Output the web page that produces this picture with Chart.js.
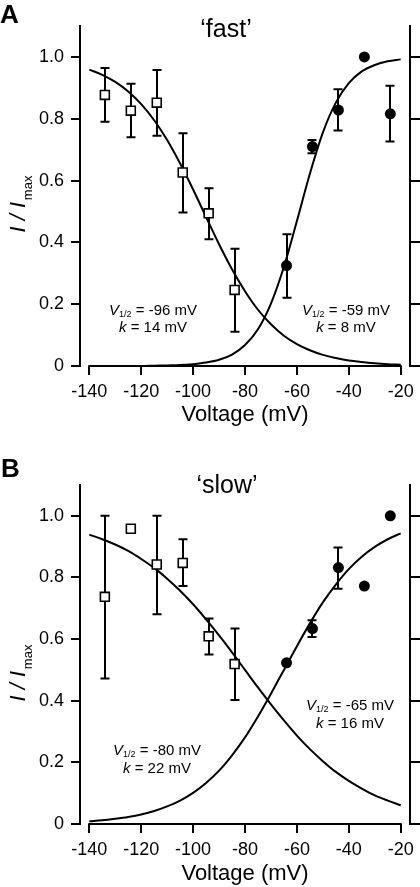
<!DOCTYPE html>
<html><head><meta charset="utf-8">
<script src="https://cdn.jsdelivr.net/npm/chart.js@4/dist/chart.umd.min.js"></script>
<style>
html,body{margin:0;padding:0;background:#fff;width:420px;height:887px;overflow:hidden}
.p{position:absolute;left:0;width:420px}
canvas{display:block}
</style></head><body>
<div class="p" style="top:0;height:440px"><canvas id="cA" width="420" height="440"></canvas></div>
<div class="p" style="top:440px;height:447px"><canvas id="cB" width="420" height="447"></canvas></div>
<script>
// ---------- data ----------
const inactVoltages = [-134, -124, -114, -104, -94, -84];
const actVoltages   = [-64, -54, -44, -34, -24];
const xTickValues = [-140, -120, -100, -80, -60, -40, -20];
const yTickValues = [0, 0.2, 0.4, 0.6, 0.8, 1.0];

// panel A 'fast'
const fastInact   = [0.877, 0.826, 0.852, 0.626, 0.494, 0.246];
const fastInactHi = [0.964, 0.913, 0.958, 0.753, 0.575, 0.379];
const fastInactLo = [0.790, 0.740, 0.745, 0.497, 0.410, 0.111];
const fastAct     = [0.325, 0.710, 0.828, 1.000, 0.816];
const fastActHi   = [0.426, 0.731, 0.895, null, 0.907];
const fastActLo   = [0.221, 0.688, 0.762, null, 0.726];

// panel B 'slow'
const slowInact   = [0.737, 0.958, 0.842, 0.847, 0.609, 0.519];
const slowInactHi = [1.000, null, 1.000, 0.924, 0.667, 0.634];
const slowInactLo = [0.472, null, 0.681, 0.772, 0.550, 0.402];
const slowAct     = [0.523, 0.634, 0.832, 0.772, 1.000];
const slowActHi   = [null, 0.661, 0.897, null, null];
const slowActLo   = [null, 0.607, 0.763, null, null];

// fitted curves
const fitVoltages = [-140,-135,-130,-125,-120,-115,-110,-105,-100,-95,-90,-85,-80,-75,-70,-65,-60,-55,-50,-45,-40,-35,-30,-25,-20];
const fastInactFit = [0.959,0.942,0.919,0.888,0.847,0.795,0.731,0.655,0.571,0.482,0.394,0.313,0.242,0.182,0.135,0.098,0.071,0.051,0.036,0.026,0.018,0.013,0.009,0.006,0.004];
const fastActFit   = [0.000,0.000,0.000,0.000,0.000,0.001,0.002,0.003,0.006,0.011,0.020,0.037,0.068,0.119,0.202,0.321,0.469,0.622,0.755,0.852,0.915,0.953,0.974,0.986,0.992];
const slowInactFit = [0.939,0.924,0.907,0.886,0.860,0.831,0.796,0.757,0.713,0.664,0.612,0.557,0.500,0.443,0.388,0.336,0.287,0.243,0.204,0.169,0.140,0.115,0.093,0.076,0.061];
const slowActFit   = [0.009,0.012,0.017,0.023,0.031,0.042,0.057,0.076,0.101,0.133,0.173,0.223,0.281,0.349,0.423,0.500,0.577,0.651,0.719,0.777,0.827,0.867,0.899,0.924,0.943];

const FONT = "'Liberation Sans', Arial, sans-serif";
Chart.defaults.font.family = FONT;
Chart.defaults.color = '#000';

function pts(xs, ys){ return xs.map((x,i)=>({x:x, y:ys[i]})); }

function drawRuns(ctx, runs, cx, baseY){
  let w = 0;
  runs.forEach(r=>{ ctx.font = r.font; r.w = ctx.measureText(r.text).width; w += r.w; });
  let x = cx - w/2;
  ctx.textAlign = 'left'; ctx.textBaseline = 'alphabetic';
  runs.forEach(r=>{ ctx.font = r.font; ctx.fillText(r.text, x, baseY + (r.dy||0)); x += r.w; });
}

const errorBars = {
  id: 'errorBars',
  beforeDatasetDraw(chart, args){
    const ds = chart.data.datasets[args.index];
    if (!ds.errHi) return;
    const xs = chart.scales.x, ys = chart.scales.y, ctx = chart.ctx;
    ctx.save();
    ctx.strokeStyle = '#000'; ctx.lineWidth = 2;
    ds.data.forEach((p,i)=>{
      const hi = ds.errHi[i], lo = ds.errLo[i];
      if (hi == null) return;
      const px = Math.round(xs.getPixelForValue(p.x));
      const yh = ys.getPixelForValue(hi), yl = ys.getPixelForValue(lo);
      ctx.beginPath();
      ctx.moveTo(px, yh); ctx.lineTo(px, yl);
      ctx.moveTo(px-4.5, yh); ctx.lineTo(px+4.5, yh);
      ctx.moveTo(px-4.5, yl); ctx.lineTo(px+4.5, yl);
      ctx.stroke();
    });
    ctx.restore();
  }
};

const decor = {
  id: 'decor',
  afterDraw(chart){
    const o = chart.options.plugins.decor;
    const ctx = chart.ctx, xs = chart.scales.x, ys = chart.scales.y;
    ctx.save();
    ctx.fillStyle = '#000'; ctx.strokeStyle = '#000';
    // x axis line
    ctx.lineWidth = 2;
    const y0 = Math.round(ys.getPixelForValue(0));
    ctx.beginPath();
    ctx.moveTo(xs.getPixelForValue(-140)-1, y0); ctx.lineTo(xs.getPixelForValue(-20)+1, y0);
    ctx.stroke();
    // panel letter
    ctx.font = 'bold 26px ' + FONT; ctx.textAlign = 'left'; ctx.textBaseline = 'alphabetic';
    ctx.fillText(o.letter, o.letterX, o.letterY);
    // title
    ctx.font = '25px ' + FONT; ctx.textAlign = 'center';
    ctx.fillText(o.title, o.titleX, o.titleY);
    // y axis title
    ctx.save();
    ctx.translate(25, o.yTitleY);
    ctx.rotate(-Math.PI/2);
    drawRuns(ctx, [
      {text:'I / I', font:'italic 22px ' + FONT},
      {text:' ', font:'6px ' + FONT},
      {text:'max', font:'13px ' + FONT, dy:7}
    ], 0, 0);
    ctx.restore();
    // annotations
    o.notes.forEach(n=>{
      drawRuns(ctx, [
        {text:'V', font:'italic 15px ' + FONT},
        {text:'1/2', font:'9px ' + FONT, dy:2},
        {text:' = ' + n.v + ' mV', font:'15px ' + FONT}
      ], n.x, n.y1);
      drawRuns(ctx, [
        {text:'k', font:'italic 15px ' + FONT},
        {text:' = ' + n.k + ' mV', font:'15px ' + FONT}
      ], n.x, n.y2);
    });
    ctx.restore();
  }
};

function makePanel(id, p){
  const ctx = document.getElementById(id);
  new Chart(ctx, {
    data: {
      datasets: [
        {type:'scatter', data: pts(inactVoltages, p.inact), errHi: p.inactHi, errLo: p.inactLo,
         pointStyle:'rect', pointRadius:6.3, pointBorderWidth:1.6, pointBackgroundColor:'#fff', pointBorderColor:'#000', pointHoverRadius:6.3},
        {type:'scatter', data: pts(actVoltages, p.act), errHi: p.actHi, errLo: p.actLo,
         pointStyle:'circle', pointRadius:5.5, pointBorderWidth:0, pointBackgroundColor:'#000', pointBorderColor:'#000', pointHoverRadius:5.5},
        {type:'line', data: pts(fitVoltages, p.inactFit), borderColor:'#000', borderWidth:2, pointRadius:0, fill:false, cubicInterpolationMode:'monotone'},
        {type:'line', data: pts(fitVoltages, p.actFit), borderColor:'#000', borderWidth:2, pointRadius:0, fill:false, cubicInterpolationMode:'monotone'}
      ]
    },
    options: {
      responsive:false, devicePixelRatio:1, animation:false,
      events: [],
      layout: {autoPadding:false, padding:{top:p.padTop, left:0, right:0, bottom:0}},
      plugins: {legend:{display:false}, tooltip:{enabled:false},
        decor: p.decor},
      scales: {
        x: {type:'linear', min:-143.584, max:-16.416,
            afterBuildTicks: s => { s.ticks = xTickValues.map(v=>({value:v})); },
            afterFit: s => { s.height = p.xH; },
            grid:{drawOnChartArea:false, drawTicks:true, tickLength:9, color:'#000', lineWidth:2},
            border:{display:false},
            ticks:{font:{size:18}, color:'#000', padding:6, maxRotation:0, autoSkip:false, callback: v => String(v)},
            title:{display:true, text:'Voltage (mV)', color:'#000', font:{size:22}, padding:{top:0, bottom:p.xTitlePad}}},
        y: {type:'linear', position:'left', min:0, max:1.1,
            afterBuildTicks: s => { s.ticks = yTickValues.map(v=>({value:v})); },
            afterFit: s => { s.width = 80; },
            grid:{drawOnChartArea:false, drawTicks:true, tickLength:9, color:'#000', lineWidth:2},
            border:{display:true, color:'#000', width:2},
            ticks:{font:{size:18}, color:'#000', padding:7, callback: v => v === 0 ? '0' : v.toFixed(1)}},
        y2: {type:'linear', position:'right', min:0, max:1.1,
            afterBuildTicks: s => { s.ticks = yTickValues.map(v=>({value:v})); },
            afterFit: s => { s.width = 10; },
            grid:{drawOnChartArea:false, drawTicks:true, tickLength:10, color:'#000', lineWidth:2},
            border:{display:true, color:'#000', width:2},
            ticks:{display:false}}
      }
    },
    plugins:[errorBars, decor]
  });
}

makePanel('cA', {
  inact: fastInact, inactHi: fastInactHi, inactLo: fastInactLo,
  act: fastAct, actHi: fastActHi, actLo: fastActLo,
  inactFit: fastInactFit, actFit: fastActFit,
  padTop: 26, xH: 74, xTitlePad: 12,
  decor: {letter:'A', letterX:0, letterY:23, title:'\u2018fast\u2019', titleX:226, titleY:37, yTitleY:204,
    notes:[{v:'-96', k:'14', x:153, y1:315, y2:332}, {v:'-59', k:'8', x:346, y1:315, y2:332}]}
});
makePanel('cB', {
  inact: slowInact, inactHi: slowInactHi, inactLo: slowInactLo,
  act: slowAct, actHi: slowActHi, actLo: slowActLo,
  inactFit: slowInactFit, actFit: slowActFit,
  padTop: 45, xH: 63, xTitlePad: 0,
  decor: {letter:'B', letterX:1, letterY:37, title:'\u2018slow\u2019', titleX:227, titleY:53, yTitleY:233,
    notes:[{v:'-65', k:'16', x:350, y1:270, y2:288}, {v:'-80', k:'22', x:157, y1:315, y2:333}]}
});
</script>
</body></html>
